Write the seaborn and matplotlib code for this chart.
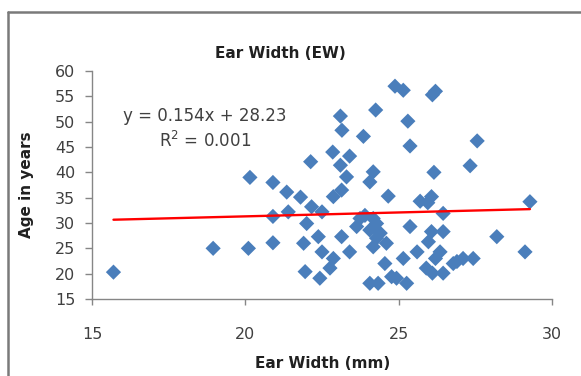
import numpy as np
import pandas as pd
import matplotlib
matplotlib.use("Agg")
import matplotlib.pyplot as plt
import seaborn as sns
from matplotlib.lines import Line2D

# ---- data ----
ear_width = [15.7, 18.95, 20.1, 20.15, 20.9, 20.9, 20.9, 21.35, 21.4, 21.8,
             22.0, 21.9, 21.95, 22.13, 22.16, 22.5, 22.38, 22.5, 22.43, 22.85,
             22.87, 23.14, 22.87, 22.76, 23.1, 23.15, 23.4, 23.1, 23.3, 23.14,
             23.4, 23.85, 24.25, 24.17, 24.06, 24.66, 23.74, 24.17, 23.63, 24.06,
             24.28, 24.28, 24.6, 24.17, 24.55, 24.06, 24.33, 24.77, 24.93, 24.88,
             25.15, 25.3, 25.37, 25.7, 25.37, 25.15, 25.6, 25.26, 26.1, 26.2,
             26.15, 26.07, 25.95, 26.45, 26.07, 26.45, 25.97, 26.35, 26.2, 26.78,
             27.1, 27.43, 25.9, 26.1, 26.45, 27.56, 27.33, 28.2, 29.28, 29.12,
             23.9, 24.4, 26.9]
age = [20.3, 25.0, 25.0, 39.0, 38.0, 31.3, 26.1, 36.1, 32.2, 35.1,
       29.9, 26.0, 20.4, 42.1, 33.2, 32.2, 27.3, 24.3, 19.1, 44.0,
       35.2, 36.5, 23.0, 21.1, 51.1, 48.3, 43.2, 41.4, 39.1, 27.3,
       24.3, 47.1, 52.3, 40.1, 38.1, 35.3, 30.9, 30.9, 29.3, 28.6,
       29.9, 27.0, 26.0, 25.3, 22.0, 18.1, 18.1, 19.4, 19.1, 57.0,
       56.2, 50.1, 45.2, 34.3, 29.3, 23.0, 24.3, 18.1, 55.3, 56.0,
       40.0, 35.2, 34.0, 31.9, 28.3, 28.3, 26.3, 24.3, 23.0, 22.0,
       23.0, 23.0, 21.1, 20.1, 20.1, 46.2, 41.3, 27.3, 34.2, 24.3,
       31.5, 28.0, 22.4]
slope = 0.154
intercept = 28.23
x_ticks = [15, 20, 25, 30]
y_ticks = [15, 20, 25, 30, 35, 40, 45, 50, 55, 60]
title = "Ear Width (EW)"
x_label = "Ear Width (mm)"
y_label = "Age in years"
eq_text = "y = 0.154x + 28.23"
r2_text = "R$^2$ = 0.001"

sns.set_style("white")
plt.rcParams['font.family'] = ['DejaVu Sans']

W, H = 581, 376
fig = plt.figure(figsize=(W / 100, H / 100), dpi=100)
fig.patch.set_facecolor("white")
ax = fig.add_axes([92 / W, 1 - 299 / H, 460 / W, 228 / H])

df = pd.DataFrame({"ew": ear_width, "age": age})
sns.scatterplot(data=df, x="ew", y="age", marker="D", s=60, color="#4a7ebb",
                edgecolor="none", linewidth=0, ax=ax, zorder=3)

xl = np.array([min(ear_width), max(ear_width)])
line_df = pd.DataFrame({"x": xl, "y": slope * xl + intercept})
sns.lineplot(data=line_df, x="x", y="y", color="#ff0000", linewidth=1.7,
             ax=ax, zorder=4)

ax.set_xlim(15, 30)
ax.set_ylim(15, 60)
ax.set_xticks(x_ticks)
ax.set_yticks(y_ticks)
ax.set_xlabel("")
ax.set_ylabel("")
for s in ["top", "right"]:
    ax.spines[s].set_visible(False)
for s in ["left", "bottom"]:
    ax.spines[s].set_color("#868686")
    ax.spines[s].set_linewidth(1.0)
ax.tick_params(axis="y", direction="out", length=5, width=1, color="#868686",
               labelsize=11.5, labelcolor="#404040", pad=7, left=True)
ax.tick_params(axis="x", direction="out", length=4, width=1, color="#868686",
               labelsize=11.5, labelcolor="#404040", pad=16, bottom=True)
ax.grid(False)

fig.text(280 / W, 1 - 53 / H, title, ha="center", va="center",
         fontsize=11, fontweight="bold", color="#202020")
fig.text(323 / W, 1 - 363 / H, x_label, ha="center", va="center",
         fontsize=11, fontweight="bold", color="#202020")
fig.text(27 / W, 1 - 185 / H, y_label, ha="center", va="center",
         rotation=90, fontsize=11, fontweight="bold", color="#202020")

ax.text(205 / W, 1 - 116 / H, eq_text, transform=fig.transFigure,
        ha="center", va="center", fontsize=12, color="#404040")
ax.text(205 / W, 1 - 141 / H, r2_text, transform=fig.transFigure,
        ha="center", va="center", fontsize=12, color="#404040")

# outer chart frame (top and left edges visible)
fig.add_artist(Line2D([7.5 / W, 1.0], [1 - 12 / H, 1 - 12 / H],
                      transform=fig.transFigure, color="#7a7a7a", lw=1.8))
fig.add_artist(Line2D([7.5 / W, 7.5 / W], [0.0, 1 - 12 / H],
                      transform=fig.transFigure, color="#7a7a7a", lw=1.8))

fig.savefig("out.png", dpi=100, facecolor="white")
